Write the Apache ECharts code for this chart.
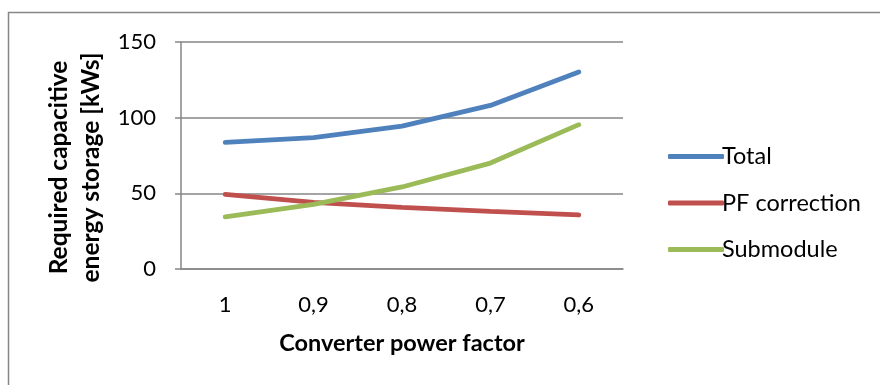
<!DOCTYPE html>
<html><head><meta charset="utf-8">
<script src="https://cdn.jsdelivr.net/npm/echarts@6/dist/echarts.min.js"></script>
<style>html,body{margin:0;padding:0;background:#fff}#c{width:880px;height:385px}</style>
</head><body><div id="c"></div>
<script>
const categories = ['1', '0,9', '0,8', '0,7', '0,6'];
const totalValues = [83.7, 86.8, 94.4, 108.1, 130.2];
const pfValues = [49.3, 44.0, 40.7, 38.1, 35.7];
const subValues = [34.4, 42.7, 54.2, 70.0, 95.4];
const yTicks = [0, 50, 100, 150];

const font = 'Lato, "Open Sans", sans-serif';
const gray = '#868686';
const chart = echarts.init(document.getElementById('c'));
function mk(name, data, color) {
  return {name, type: 'line', data, symbol: 'none', smooth: false,
    lineStyle: {color, width: 4.8, cap: 'round'}, itemStyle: {color}};
}
chart.setOption({
  animation: false,
  graphic: [{type: 'rect', shape: {x: 8.5, y: 12.5, width: 1000, height: 1000},
    style: {fill: 'none', stroke: gray, lineWidth: 1.5}, silent: true}],
  grid: {left: 181, right: 257, top: 42, bottom: 116},
  legend: {orient: 'vertical', left: 663, top: 139, icon: 'roundRect', itemWidth: 56, itemHeight: 5, itemGap: 21.5,
    textStyle: {fontFamily: font, fontSize: 23.5, color: '#000', padding: [0, 0, 0, -7], lineHeight: 25},
    data: ['Total', 'PF correction', 'Submodule']},
  xAxis: {type: 'category', data: categories,
    name: 'Converter power factor', nameLocation: 'middle', nameGap: 62,
    nameTextStyle: {fontFamily: font, fontSize: 23.5, fontWeight: 'bold', color: '#000'},
    axisLine: {lineStyle: {color: gray, width: 1.5}},
    axisTick: {lineStyle: {color: gray, width: 1.5}, length: 6},
    axisLabel: {fontFamily: font, fontSize: 22, color: '#000', margin: 25}},
  yAxis: {type: 'value', min: yTicks[0], max: yTicks[yTicks.length - 1], interval: 50,
    name: 'Required capacitive\nenergy storage [kWs]', nameLocation: 'middle', nameGap: 72,
    nameTextStyle: {fontFamily: font, fontSize: 24.5, fontWeight: 'bold', color: '#000', lineHeight: 32,
      padding: [0, 24, 0, 0]},
    axisLine: {show: true, lineStyle: {color: gray, width: 1.5}},
    axisTick: {show: true, lineStyle: {color: gray, width: 1.5}, length: 6},
    axisLabel: {fontFamily: font, fontSize: 22, color: '#000', margin: 25},
    splitLine: {lineStyle: {color: gray, width: 1.5}}},
  series: [mk('Total', totalValues, '#4F81BD'), mk('PF correction', pfValues, '#C0504D'),
    mk('Submodule', subValues, '#9BBB59')]
});
</script></body></html>
